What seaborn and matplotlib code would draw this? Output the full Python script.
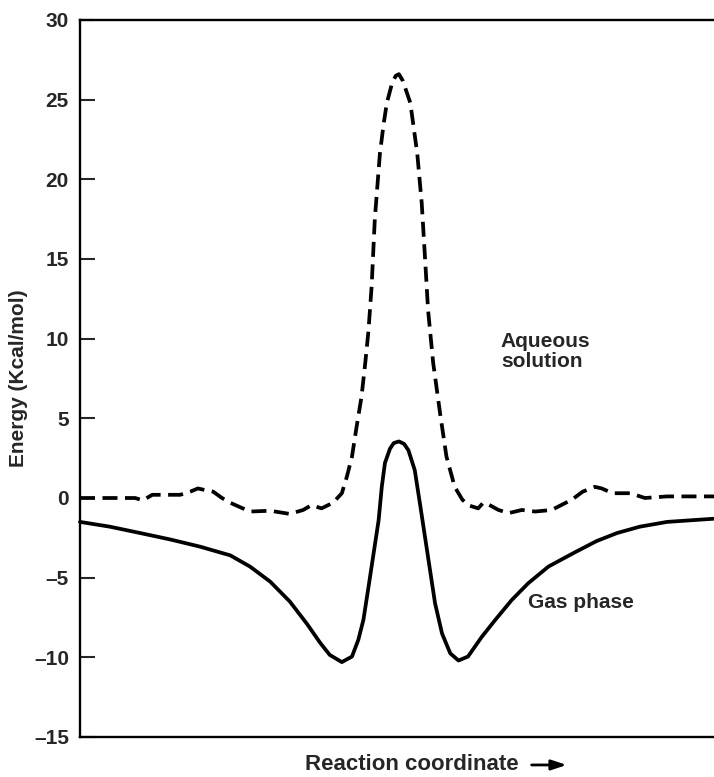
import matplotlib
matplotlib.use('Agg')
import matplotlib.pyplot as plt
import seaborn as sns  # type: ignore
import pandas as pd

# Reaction coordinate (arbitrary units, 0-100) and energies in Kcal/mol
gas_x = [0.0, 4.7, 9.5, 14.2, 18.9, 23.7, 26.8, 30.0, 33.1, 35.8, 37.9, 39.4,
         41.3, 42.9, 43.9, 44.7, 45.5, 46.3, 47.1, 47.6, 48.1, 48.9, 49.5, 50.3,
         51.1, 51.8, 52.8, 53.6, 54.4, 55.2, 56.0, 57.1, 58.4, 59.7, 61.2, 63.4,
         65.5, 68.1, 70.7, 73.9, 78.1, 81.5, 84.7, 88.3, 92.6, 100.0]
gas_energy = [-1.5, -1.8, -2.2, -2.6, -3.05, -3.6, -4.3, -5.25, -6.5, -7.9, -9.1, -9.85,
              -10.3, -9.95, -8.9, -7.65, -5.6, -3.5, -1.4, 0.7, 2.2, 3.1, 3.45, 3.55,
              3.4, 3.0, 1.75, -0.3, -2.4, -4.5, -6.6, -8.5, -9.75, -10.2, -9.95, -8.7,
              -7.65, -6.4, -5.35, -4.3, -3.4, -2.7, -2.2, -1.8, -1.5, -1.3]

aq_x = [0.0, 4.7, 8.7, 9.9, 11.4, 13.4, 15.8, 17.4, 18.6, 19.7, 21.0, 22.4, 23.7,
        26.8, 30.0, 33.1, 35.2, 36.5, 38.1, 39.9, 41.3, 42.1, 42.9, 43.6, 44.4,
        45.0, 45.5, 46.0, 46.5, 47.3, 47.9, 48.4, 49.2, 49.8, 50.3, 50.9, 52.1,
        53.2, 53.9, 54.4, 54.9, 55.7, 56.8, 57.8, 59.1, 60.3, 61.2, 62.8, 63.6,
        64.4, 66.0, 67.6, 69.7, 71.8, 74.4, 77.6, 79.3, 81.2, 82.3, 84.0, 86.8,
        89.1, 92.6, 96.2, 100.0]
aq_energy = [0.0, 0.0, 0.0, -0.15, 0.2, 0.2, 0.2, 0.4, 0.6, 0.5, 0.4, 0.0, -0.3,
             -0.85, -0.8, -1.0, -0.75, -0.45, -0.65, -0.3, 0.3, 1.35, 2.6, 4.4, 6.35,
             8.5, 10.5, 13.3, 17.5, 21.6, 23.5, 24.8, 26.0, 26.5, 26.6, 26.2, 24.8,
             21.6, 18.5, 15.2, 11.8, 8.5, 5.3, 2.6, 0.7, -0.1, -0.45, -0.65, -0.3,
             -0.4, -0.75, -0.95, -0.75, -0.85, -0.75, -0.1, 0.4, 0.7, 0.6, 0.3, 0.3,
             0.0, 0.1, 0.1, 0.1]

y_ticks = [-15, -10, -5, 0, 5, 10, 15, 20, 25, 30]

sns.set_style('white')
plt.rcParams['font.family'] = ['Liberation Sans', 'DejaVu Sans']
plt.rcParams['font.weight'] = 'bold'

gas_df = pd.DataFrame({'x': gas_x, 'energy': gas_energy})
aq_df = pd.DataFrame({'x': aq_x, 'energy': aq_energy})

fig = plt.figure(figsize=(7.14, 7.77), dpi=100)
ax = fig.add_axes([80 / 714, 40 / 777, 634 / 714, 717 / 777])

sns.lineplot(data=gas_df, x='x', y='energy', ax=ax, color='black', linewidth=2.7,
             sort=False, clip_on=False, solid_joinstyle='round')
sns.lineplot(data=aq_df, x='x', y='energy', ax=ax, color='black', linewidth=2.7,
             sort=False, linestyle=(0, (4.0, 2.0)), clip_on=False,
             dash_joinstyle='round')

ax.set_xlim(0, 100)
ax.set_ylim(-15, 30)
ax.set_yticks(y_ticks)
ax.set_yticklabels([str(t).replace('-', '\u2013') for t in y_ticks],
                   fontsize=15, fontweight='bold')
ax.set_xticks([])
ax.tick_params(axis='y', direction='in', length=11, width=1.5, pad=8, left=True)

for side in ['left', 'bottom', 'top']:
    ax.spines[side].set_color('black')
    ax.spines[side].set_linewidth(1.7)
ax.spines['right'].set_visible(False)

ax.set_ylabel('Energy (Kcal/mol)', fontsize=15, fontweight='bold')
ax.yaxis.set_label_coords(-0.082, 0.5)
ax.set_xlabel('')

ax.text(0.664, 0.538, 'Aqueous\nsolution', transform=ax.transAxes, fontsize=15,
        fontweight='bold', ha='left', va='center', linespacing=1.05)
ax.text(0.707, 0.187, 'Gas phase', transform=ax.transAxes, fontsize=15,
        fontweight='bold', ha='left', va='center')

ax.text(0.523, -0.039, 'Reaction coordinate', transform=ax.transAxes, fontsize=16,
        fontweight='bold', ha='center', va='center')
ax.annotate('', xy=(0.772, -0.039), xytext=(0.708, -0.039), xycoords='axes fraction',
            textcoords='axes fraction', annotation_clip=False,
            arrowprops=dict(arrowstyle='-|>,head_length=0.9,head_width=0.3',
                            color='black', lw=2.0))

fig.savefig('out.png', dpi=100)
